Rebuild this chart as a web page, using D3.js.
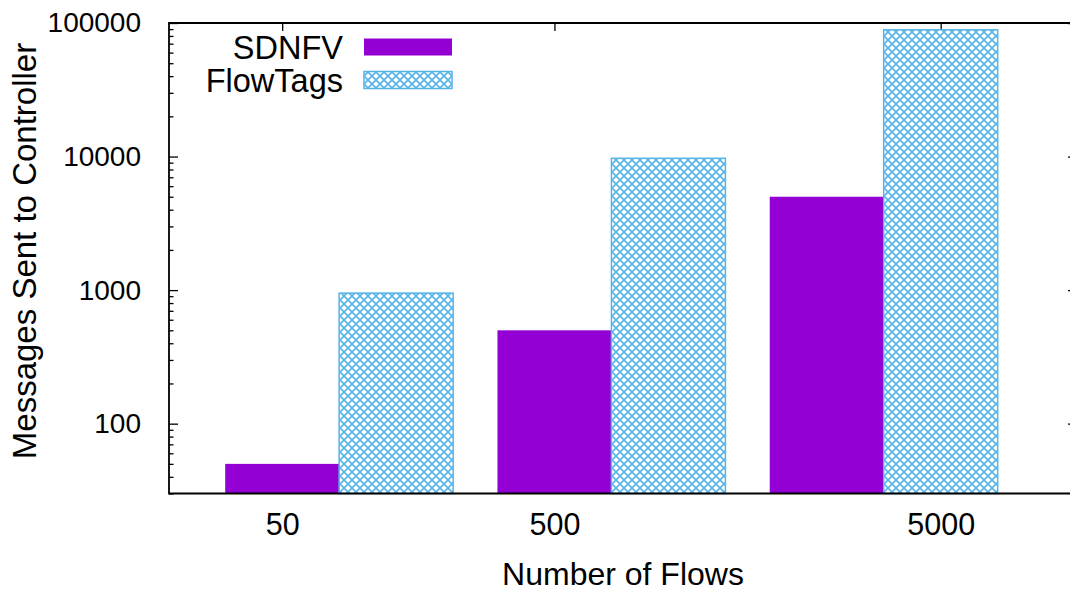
<!DOCTYPE html>
<html>
<head>
<meta charset="utf-8">
<script src="https://cdn.jsdelivr.net/npm/d3@7"></script>
<style>
  body { margin: 0; background: #fff; }
  svg { display: block; }
  text { font-family: "Liberation Sans", Arial, Helvetica, sans-serif; fill: #000; }
</style>
</head>
<body>
<svg id="chart" width="1070" height="591"></svg>
<script>
// Messages sent to the controller, per number of flows
const flows = ["50", "500", "5000"];
const sdnfv = [50, 500, 5000];
const flowTags = [950, 9700, 89000];
const seriesNames = ["SDNFV", "FlowTags"];
const yMajorTicks = [100, 1000, 10000, 100000];
// each category label sits under one bar of its group: 0 = SDNFV, 1 = FlowTags
const tickUnderSeries = [0, 0, 1];

const colors = { SDNFV: "#9400d3", FlowTags: "#56b4e9" };

const plot = { left: 169, right: 1077, top: 23, bottom: 493.5 };
const barW = 0.4186;           // bar width in group units

const svg = d3.select("#chart");

// cross-hatch fill for FlowTags
const defs = svg.append("defs");
const pat = defs.append("pattern")
  .attr("id", "xhatch")
  .attr("patternUnits", "userSpaceOnUse")
  .attr("width", 8).attr("height", 8);
pat.append("rect").attr("width", 8).attr("height", 8).attr("fill", "#fff");
pat.append("path")
  .attr("d", "M0,0L8,8M8,0L0,8")
  .attr("stroke", colors.FlowTags)
  .attr("stroke-width", 1.6);

const x = d3.scaleLinear().domain([-0.625, 2.71]).range([plot.left, plot.right]);
const y = d3.scaleLog().domain([30, 100000]).range([plot.bottom, plot.top]);

// minor log ticks: 2..9 in every decade inside the domain
const yMinorTicks = [];
[10, 100, 1000, 10000].forEach(d => {
  for (let k = 2; k <= 9; k++) {
    const v = d * k;
    if (v >= 30 && v < 100000) yMinorTicks.push(v);
  }
});

const tickPos = flows.map((f, i) => i + (tickUnderSeries[i] === 0 ? -barW / 2 : barW / 2));

const axisStyle = size => g => {
  g.select(".domain").remove();
  g.selectAll(".tick line").attr("stroke", "#000").attr("stroke-width", 1.3);
  g.selectAll(".tick text").style("font-size", size + "px").attr("fill", "#000");
};

// left axis: major with labels, minor without
svg.append("g")
  .attr("transform", `translate(${plot.left},0)`)
  .call(d3.axisLeft(y).tickValues(yMajorTicks).tickSize(-9).tickPadding(28).tickFormat(d3.format("d")))
  .call(axisStyle(28));
svg.append("g")
  .attr("transform", `translate(${plot.left},0)`)
  .call(d3.axisLeft(y).tickValues(yMinorTicks).tickSize(-4.5).tickFormat(""))
  .call(axisStyle(28));

// mirrored ticks on the right
svg.append("g")
  .attr("transform", `translate(${plot.right},0)`)
  .call(d3.axisRight(y).tickValues(yMajorTicks).tickSize(-9).tickFormat(""))
  .call(axisStyle(28));
svg.append("g")
  .attr("transform", `translate(${plot.right},0)`)
  .call(d3.axisRight(y).tickValues(yMinorTicks).tickSize(-4.5).tickFormat(""))
  .call(axisStyle(28));

// x ticks: bottom with labels, top mirrored
svg.append("g")
  .attr("transform", `translate(0,${plot.top})`)
  .call(d3.axisTop(x).tickValues(tickPos).tickSize(-8).tickFormat(""))
  .call(axisStyle(30));
svg.append("g")
  .attr("transform", `translate(0,${plot.bottom})`)
  .call(d3.axisBottom(x).tickValues(tickPos).tickSize(-8).tickPadding(20)
    .tickFormat((d, i) => flows[i]))
  .call(axisStyle(30.5));

// bars
const gBars = svg.append("g");
flows.forEach((f, i) => {
  [sdnfv[i], flowTags[i]].forEach((v, s) => {
    const x0 = s === 0 ? i - barW : i;
    const r = gBars.append("rect")
      .attr("x", x(x0))
      .attr("width", x(x0 + barW) - x(x0))
      .attr("y", y(v))
      .attr("height", plot.bottom - y(v));
    if (s === 0) {
      r.attr("fill", colors.SDNFV);
    } else {
      r.attr("fill", "url(#xhatch)")
        .attr("stroke", colors.FlowTags)
        .attr("stroke-width", 1.5);
    }
  });
});

// frame: left, top, bottom, right
svg.append("path")
  .attr("d", `M${plot.left},${plot.top}H${plot.right}V${plot.bottom}H${plot.left}Z`)
  .attr("stroke", "#000").attr("stroke-width", 1.8).attr("fill", "none");

// legend
const legend = svg.append("g");
seriesNames.forEach((name, k) => {
  const cy = 47 + k * 33;
  legend.append("text")
    .attr("x", 343).attr("y", cy + 11.5)
    .attr("text-anchor", "end")
    .style("font-size", "32.5px")
    .text(name);
  const sw = legend.append("rect")
    .attr("x", 364).attr("y", cy - 8.5)
    .attr("width", 88).attr("height", 17);
  if (k === 0) sw.attr("fill", colors.SDNFV);
  else sw.attr("fill", "url(#xhatch)").attr("stroke", colors.FlowTags).attr("stroke-width", 1.5);
});

// axis titles
svg.append("text")
  .attr("transform", `translate(36,251) rotate(-90)`)
  .attr("text-anchor", "middle")
  .style("font-size", "33px")
  .text("Messages Sent to Controller");
svg.append("text")
  .attr("x", 623).attr("y", 585)
  .attr("text-anchor", "middle")
  .style("font-size", "32px")
  .text("Number of Flows");
</script>
</body>
</html>
